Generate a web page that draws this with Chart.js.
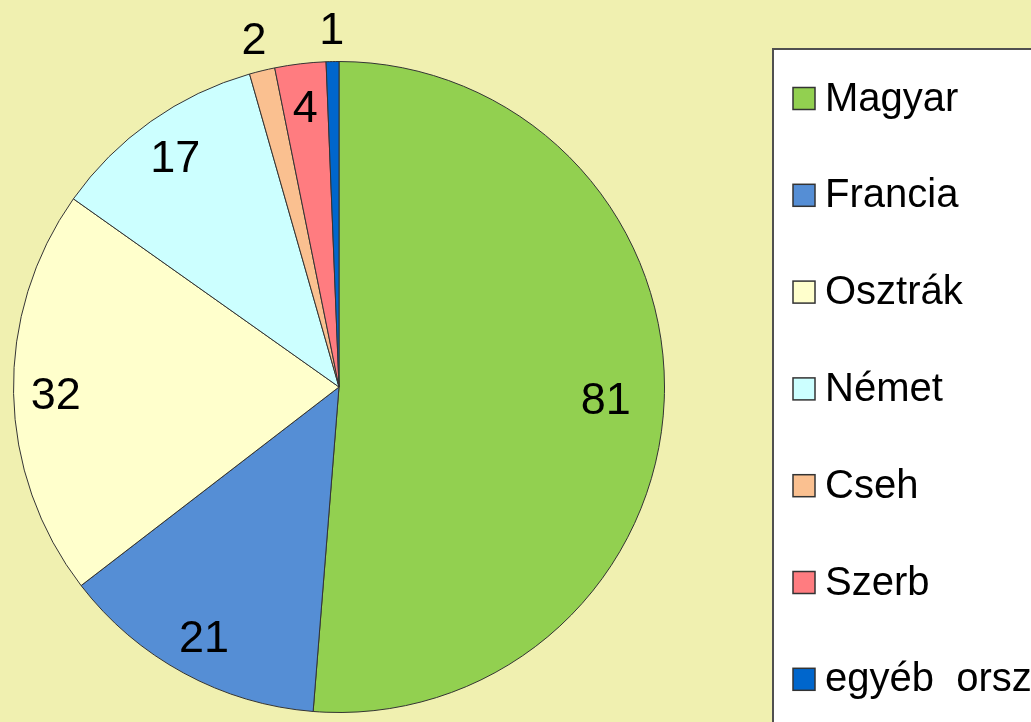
<!DOCTYPE html>
<html>
<head>
<meta charset="utf-8">
<script src="https://cdn.jsdelivr.net/npm/chart.js@4"></script>
<style>
  html, body { margin: 0; padding: 0; background: #F0F0B0; }
  #wrap { width: 1031px; height: 722px; position: relative; }
  canvas { display: block; }
</style>
</head>
<body>
<div id="wrap"><canvas id="c" width="1031" height="722"></canvas></div>
<script>
const categories = ["Magyar", "Francia", "Osztrák", "Német", "Cseh", "Szerb", "egyéb  ország"];
const values = [81, 21, 32, 17, 2, 4, 1];
const sliceColors = ["#92D050", "#558ED5", "#FFFFCC", "#CCFFFF", "#FAC090", "#FF7C80", "#0066CC"];

const FONT = '"Liberation Sans", Arial, sans-serif';

const pieLabels = {
  id: 'pieLabels',
  afterDatasetsDraw(chart) {
    const ctx = chart.ctx;
    const meta = chart.getDatasetMeta(0);
    const data = chart.data.datasets[0].data;
    const total = data.reduce((a, b) => a + b, 0);
    ctx.save();
    ctx.font = '45px ' + FONT;
    ctx.fillStyle = '#000';
    ctx.textAlign = 'center';
    ctx.textBaseline = 'middle';
    meta.data.forEach((arc, i) => {
      const p = arc.getProps(['x', 'y', 'startAngle', 'endAngle', 'outerRadius'], true);
      const mid = (p.startAngle + p.endAngle) / 2;
      const share = data[i] / total;
      const r = share < 0.02 ? p.outerRadius * 1.105 : p.outerRadius * (share > 0.4 ? 0.82 : 0.87);
      ctx.fillText(String(data[i]), p.x + Math.cos(mid) * r, p.y + Math.sin(mid) * r + 4);
    });
    ctx.restore();
  }
};

const boxLegend = {
  id: 'boxLegend',
  afterDraw(chart) {
    const ctx = chart.ctx;
    const labels = chart.data.labels;
    const colors = chart.data.datasets[0].backgroundColor;
    ctx.save();
    ctx.fillStyle = '#FFFFFF';
    ctx.fillRect(773, 49, 300, 700);
    ctx.strokeStyle = '#505050';
    ctx.lineWidth = 2;
    ctx.strokeRect(773, 49, 300, 700);
    ctx.font = '40px ' + FONT;
    ctx.textAlign = 'left';
    ctx.textBaseline = 'middle';
    labels.forEach((lab, i) => {
      const cy = 98.5 + i * 96.8;
      ctx.fillStyle = colors[i];
      ctx.fillRect(793, cy - 11, 22, 22);
      ctx.strokeStyle = '#333333';
      ctx.lineWidth = 1.5;
      ctx.strokeRect(793, cy - 11, 22, 22);
      ctx.fillStyle = '#000';
      ctx.fillText(lab, 825, cy + 1);
    });
    ctx.restore();
  }
};

new Chart(document.getElementById('c'), {
  type: 'pie',
  data: {
    labels: categories,
    datasets: [{
      data: values,
      backgroundColor: sliceColors,
      borderColor: '#333333',
      borderWidth: 1
    }]
  },
  options: {
    responsive: false,
    animation: false,
    layout: { padding: { left: 13, right: 366, top: 61, bottom: 9 } },
    plugins: {
      legend: { display: false },
      tooltip: { enabled: false }
    }
  },
  plugins: [pieLabels, boxLegend]
});
</script>
</body>
</html>
